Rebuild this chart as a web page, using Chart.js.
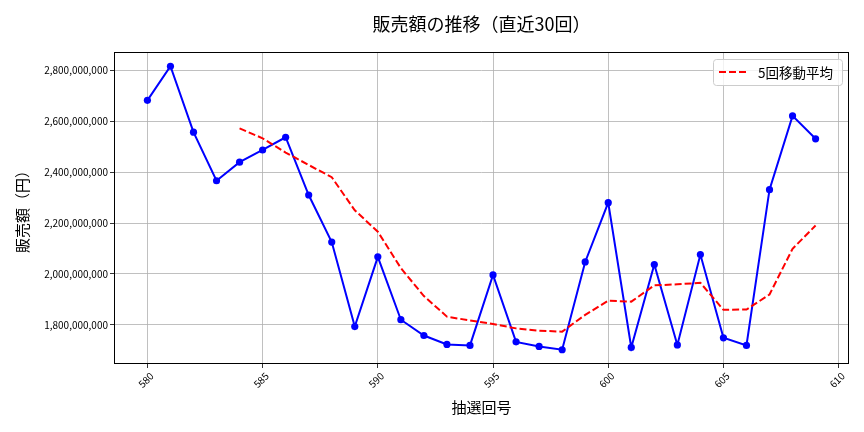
<!DOCTYPE html>
<html>
<head>
<meta charset="utf-8">
<script src="https://cdn.jsdelivr.net/npm/chart.js@4/dist/chart.umd.min.js"></script>
<style>
  html, body { margin: 0; padding: 0; background: #ffffff; }
  #wrap { width: 864px; height: 432px; }
</style>
</head>
<body>
<div id="wrap"><canvas id="sales-chart" width="864" height="432"></canvas></div>
<script>
// draw numbers (抽選回号)
var draws = [580, 581, 582, 583, 584, 585, 586, 587, 588, 589, 590, 591, 592, 593, 594,
  595, 596, 597, 598, 599, 600, 601, 602, 603, 604, 605, 606, 607, 608, 609];
// sales per draw (円)
var sales = [2682000000, 2816000000, 2557000000, 2366000000, 2439000000, 2487000000,
  2537000000, 2310000000, 2125000000, 1793000000, 2067000000, 1820000000, 1758000000,
  1723000000, 1719000000, 1996000000, 1733000000, 1715000000, 1702000000, 2047000000,
  2280000000, 1711000000, 2037000000, 1721000000, 2076000000, 1749000000, 1719000000,
  2331000000, 2621000000, 2531000000];
// 5-draw moving average, starts at draw 584
var maDraws = [584, 585, 586, 587, 588, 589, 590, 591, 592, 593, 594, 595, 596, 597,
  598, 599, 600, 601, 602, 603, 604, 605, 606, 607, 608, 609];
var movingAvg = [2572000000, 2533000000, 2477000000, 2428000000, 2380000000, 2250000000,
  2166000000, 2023000000, 1913000000, 1832000000, 1817000000, 1803000000, 1786000000,
  1777000000, 1773000000, 1839000000, 1895000000, 1891000000, 1955000000, 1959000000,
  1965000000, 1859000000, 1860000000, 1919000000, 2099000000, 2190000000];
var yTicks = [1800000000, 2000000000, 2200000000, 2400000000, 2600000000, 2800000000];

var titleText = "販売額の推移（直近30回）";
var legendText = "5回移動平均";
var FONT = "'Noto Sans CJK JP', 'Noto Sans', sans-serif";

// frame, rotated x labels (centred on ticks), title and legend box
var decorations = {
  id: "decorations",
  afterDraw: function (chart) {
    var c = chart.ctx;
    var area = chart.chartArea;
    var xs = chart.scales.x;
    c.save();

    // full axes frame
    c.strokeStyle = "#000";
    c.lineWidth = 1;
    c.strokeRect(Math.round(area.left) + 0.5, Math.round(area.top) + 0.5,
      Math.round(area.right - area.left) - 1, Math.round(area.bottom - area.top) - 1);

    // x tick labels, rotated 45 degrees about their centre
    c.fillStyle = "#000";
    c.font = "10px " + FONT;
    c.textAlign = "center";
    c.textBaseline = "middle";
    xs.ticks.forEach(function (t) {
      var px = xs.getPixelForValue(t.value);
      c.save();
      c.translate(px - 1.5, area.bottom + 16);
      c.rotate(-Math.PI / 4);
      c.fillText(String(t.value), 0, 0);
      c.restore();
    });

    c.font = "18px " + FONT;
    c.fillText(titleText, (area.left + area.right) / 2, 24);

    // legend
    var bx = 713, by = 59, bw = 129, bh = 26;
    c.fillStyle = "rgba(255,255,255,0.8)";
    c.strokeStyle = "#cccccc";
    c.lineWidth = 1;
    c.beginPath();
    c.roundRect(bx + 0.5, by + 0.5, bw, bh, 3);
    c.fill();
    c.stroke();
    c.strokeStyle = "#ff0000";
    c.lineWidth = 2;
    c.setLineDash([7, 3]);
    c.beginPath();
    c.moveTo(bx + 6, by + 13);
    c.lineTo(bx + 34, by + 13);
    c.stroke();
    c.setLineDash([]);
    c.fillStyle = "#000";
    c.font = "13.5px " + FONT;
    c.textAlign = "left";
    c.fillText(legendText, bx + 45, by + 14);
    c.restore();
  },
};

var ctx = document.getElementById("sales-chart").getContext("2d");
var sales_chart = new Chart(ctx, {
  type: "line",
  data: {
    datasets: [
      {
        label: "販売額",
        data: draws.map(function (d, i) { return { x: d, y: sales[i] }; }),
        borderColor: "#0000ff",
        backgroundColor: "#0000ff",
        borderWidth: 2,
        pointRadius: 3.6,
        pointBorderWidth: 0,
        pointHoverRadius: 3.6,
        fill: false,
        order: 2,
      },
      {
        label: legendText,
        data: maDraws.map(function (d, i) { return { x: d, y: movingAvg[i] }; }),
        borderColor: "#ff0000",
        borderWidth: 2,
        borderDash: [7, 3],
        pointRadius: 0,
        fill: false,
        order: 1,
      },
    ],
  },
  options: {
    responsive: false,
    animation: false,
    events: [],
    layout: { padding: { top: 52, right: 15, left: 0, bottom: 0 } },
    plugins: {
      legend: { display: false },
      title: { display: false },
      tooltip: { enabled: false },
    },
    scales: {
      x: {
        type: "linear",
        min: 578.55,
        max: 610.45,
        afterFit: function (scale) { scale.height = 68; },
        border: { display: false },
        grid: { color: "#b0b0b0", lineWidth: 0.8, tickLength: 4, tickColor: "#000" },
        ticks: {
          stepSize: 5,
          includeBounds: false,
          display: false,
        },
        title: {
          display: true,
          text: "抽選回号",
          color: "#000",
          font: { family: FONT, size: 15 },
          padding: { top: 0, bottom: 16 },
        },
      },
      y: {
        min: 1646000000,
        max: 2872000000,
        afterFit: function (scale) { scale.width = 114; },
        afterBuildTicks: function (scale) {
          scale.ticks = yTicks.map(function (v) { return { value: v }; });
        },
        border: { display: false },
        grid: { color: "#b0b0b0", lineWidth: 0.8, tickLength: 4, tickColor: "#000" },
        ticks: {
          padding: 2,
          color: "#000",
          font: { family: FONT, size: 10 },
          callback: function (v) { return v.toLocaleString("en-US"); },
        },
        title: {
          display: true,
          text: "販売額（円）",
          color: "#000",
          font: { family: FONT, size: 15 },
          padding: { top: 13, bottom: 0 },
        },
      },
    },
  },
  plugins: [decorations],
});
</script>
</body>
</html>
